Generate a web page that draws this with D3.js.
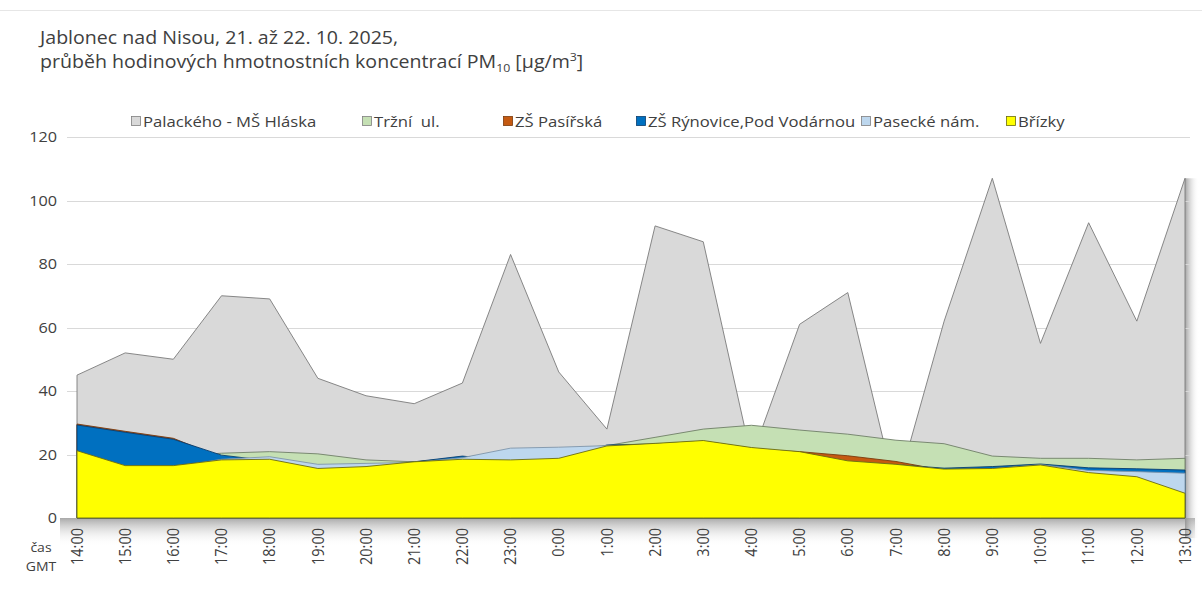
<!DOCTYPE html>
<html><head><meta charset="utf-8">
<script src="https://cdn.jsdelivr.net/npm/d3@7"></script>
<style>
html,body{margin:0;padding:0;background:#fff;}
svg{display:block;font-family:"Open Sans","Noto Sans",sans-serif;}
</style></head>
<body>
<svg id="c" width="1202" height="590"></svg>
<script>
const hours = ["14:00","15:00","16:00","17:00","18:00","19:00","20:00","21:00","22:00","23:00","0:00","1:00","2:00","3:00","4:00","5:00","6:00","7:00","8:00","9:00","10:00","11:00","12:00","13:00"];
const palackeho = [45,52,50,70,69,44,38.5,36,42.5,83,46,28,92,87,19,61,71,8,62,107,55,93,62,107];
const trzni     = [20,19,19.5,20.4,20.9,20.2,18.3,17.7,19,21,21.5,22.8,25.4,28,29.2,27.7,26.4,24.5,23.4,19.5,18.8,18.8,18.3,18.8];
const pasirska  = [29.6,27.3,25.1,19,17,14.5,15,17,18.5,17.5,18,22,23,24,21.5,20.9,19.6,17.8,15,15,16,14,12.5,7.5];
const rynovice  = [29.3,27,24.8,19.8,18,15,16,17.7,19.5,18,18.5,23,23.3,24.2,22,20.5,17.8,16.8,15.7,16.2,17,15.8,15.5,15.1];
const pasecke   = [20,16,16,18.5,19.3,16.9,17.2,17.5,19,22,22.3,22.8,23,24,21.8,20.5,17.5,16.5,15.2,15.5,16.8,15,14.6,14.1];
const brizky    = [21.2,16.5,16.5,18.3,18.5,15.6,16.2,17.7,18.5,18.3,18.8,22.7,23.5,24.4,22.2,20.9,18,16.9,15.4,15.6,16.7,14.3,13,7.8];
const seriesNames = ["Palackého - MŠ Hláska","Tržní  ul.","ZŠ Pasířská","ZŠ Rýnovice,Pod Vodárnou","Pasecké nám.","Břízky"];
const yTicks = [0,20,40,60,80,100,120];

const fills   = ["#d9d9d9","#c5e0b4","#c55a11","#0070c0","#bdd7ee","#ffff00"];
const strokes = ["#7a7a7a","#6f7f68","#7a3a0c","#0a3d6e","#7f95aa","#6b6b10"];
const values  = [palackeho,trzni,pasirska,rynovice,pasecke,brizky];

const svg = d3.select("#c");
const x = d3.scalePoint().domain(hours).range([77,1185]);
const y = d3.scaleLinear().domain([0,120]).range([518,137]);

const defs = svg.append("defs");
const g1 = defs.append("linearGradient").attr("id","shB").attr("x1",0).attr("y1",0).attr("x2",0).attr("y2",1);
g1.append("stop").attr("offset","0").attr("stop-color","#8c8c8c");
g1.append("stop").attr("offset","1").attr("stop-color","#ffffff").attr("stop-opacity",0);
const g2 = defs.append("linearGradient").attr("id","shR").attr("x1",0).attr("y1",0).attr("x2",1).attr("y2",0);
g2.append("stop").attr("offset","0").attr("stop-color","#8c8c8c");
g2.append("stop").attr("offset","1").attr("stop-color","#ffffff").attr("stop-opacity",0);

svg.append("line").attr("x1",0).attr("x2",1202).attr("y1",10.5).attr("y2",10.5).attr("stroke","#e6e6e6");

svg.append("rect").attr("x",60).attr("y",y(0)).attr("width",1135).attr("height",28).attr("fill","url(#shB)").attr("opacity",0.75);
svg.append("rect").attr("x",x("13:00")).attr("y",y(107)).attr("width",14).attr("height",y(0)-y(107)+20).attr("fill","url(#shR)").attr("opacity",0.8);

svg.append("g").selectAll("line").data(yTicks.filter(d=>d>0)).join("line")
  .attr("x1",67).attr("x2",1190)
  .attr("y1",d=>Math.round(y(d))+0.5).attr("y2",d=>Math.round(y(d))+0.5)
  .attr("stroke","#d9d9d9").attr("stroke-width",1);

svg.append("g").selectAll("text").data(yTicks).join("text")
  .attr("transform",d=>`translate(57,${y(d)}) scale(1.12,1)`)
  .attr("dy","0.35em")
  .attr("text-anchor","end").attr("font-size",14.5).attr("fill","#404040")
  .text(d=>d);

const area = d3.area().x((d,i)=>x(hours[i])).y0(y(0)).y1(d=>y(d));
values.forEach((v,k)=>{
  svg.append("path").datum(v).attr("d",area)
    .attr("fill",fills[k]).attr("stroke",strokes[k]).attr("stroke-width",0.9)
    .attr("stroke-linejoin","miter");
});

svg.append("g").selectAll("text").data(hours).join("text")
  .attr("transform",d=>`translate(${x(d)},${528}) rotate(-90) scale(1,1.12)`)
  .attr("dy","0.35em").attr("text-anchor","end")
  .attr("font-size",14.5).attr("fill","#404040")
  .text(d=>d);

svg.append("text").attr("transform","translate(41,552) scale(1.12,1)").attr("text-anchor","middle").attr("font-size",12.5).attr("fill","#404040").text("čas");
svg.append("text").attr("transform","translate(41,571) scale(1.12,1)").attr("text-anchor","middle").attr("font-size",12.5).attr("fill","#404040").text("GMT");

const t1 = svg.append("text").attr("transform","translate(40,44) scale(1.12,1)").attr("font-size",17.5).attr("fill","#404040");
t1.text("Jablonec nad Nisou, 21. až 22. 10. 2025,");
const t2 = svg.append("text").attr("transform","translate(40,68) scale(1.12,1)").attr("font-size",17.5).attr("fill","#404040");
t2.append("tspan").text("průběh hodinových hmotnostních koncentrací  PM");
t2.append("tspan").attr("font-size",11).attr("dy",4).text("10");
t2.append("tspan").attr("dy",-4).text(" [µg/m");
t2.append("tspan").attr("font-size",11).attr("dy",-7).text("3");
t2.append("tspan").attr("dy",7).text("]");

const legX = [131,362,503,636,861,1006];
const leg = svg.append("g").selectAll("g").data(seriesNames).join("g")
  .attr("transform",(d,i)=>`translate(${legX[i]},122)`);
leg.append("rect").attr("x",0.5).attr("y",-5.5).attr("width",9).attr("height",9)
  .attr("fill",(d,i)=>fills[i]).attr("stroke",(d,i)=>i===0||i===1||i===4?"#7f7f7f":strokes[i]).attr("stroke-width",0.8);
leg.append("text").attr("transform","translate(12,0) scale(1.15,1)").attr("dy","0.35em").attr("font-size",14.5).attr("fill","#404040")
  .attr("xml:space","preserve").style("white-space","pre").text(d=>d);
</script>
</body></html>
